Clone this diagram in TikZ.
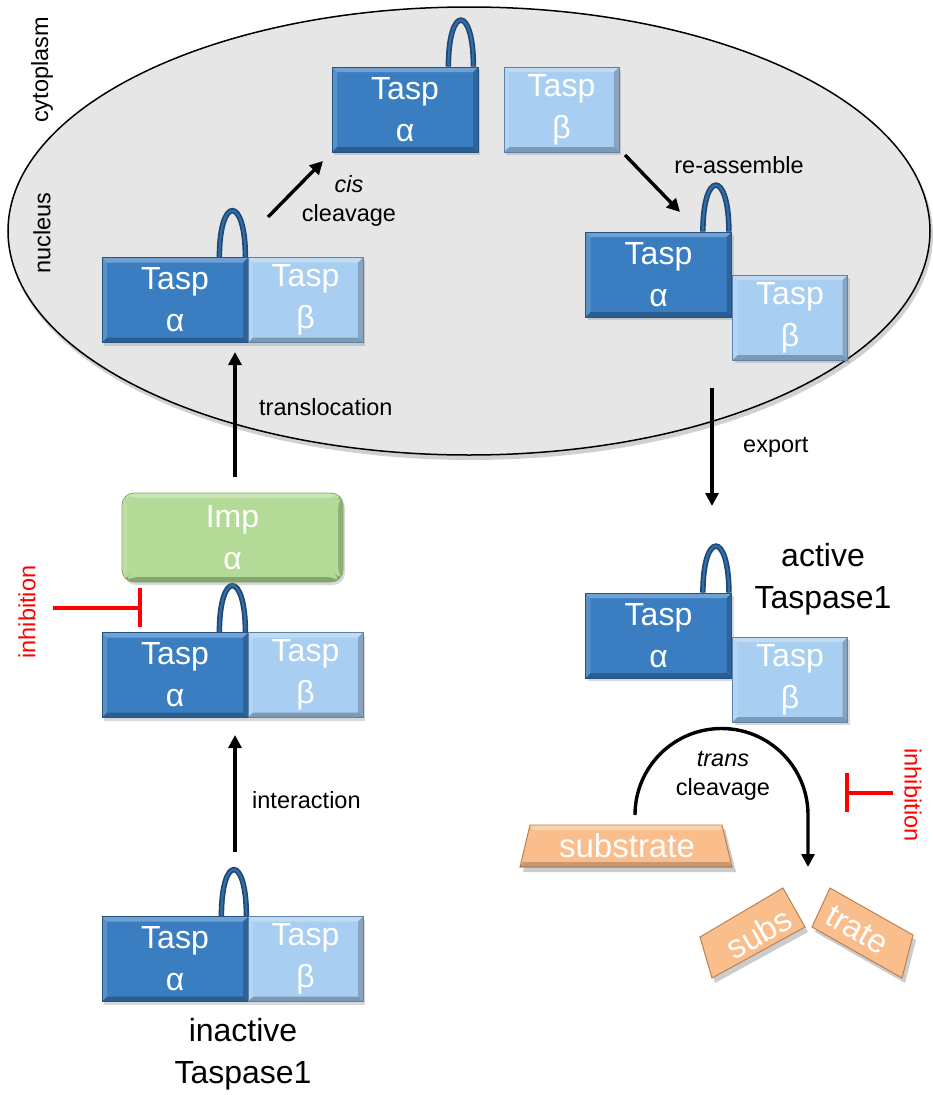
\documentclass[tikz,border=0pt]{standalone}
\usepackage{fontspec}
\setmainfont{Liberation Sans}
\usetikzlibrary{arrows.meta,shadows,calc}
\pgfdeclarelayer{back}
\pgfdeclarelayer{mid}
\pgfsetlayers{back,mid,main}
\definecolor{adark}{RGB}{58,126,193}
\definecolor{aedge}{RGB}{36,84,132}
\definecolor{blight}{RGB}{168,206,241}
\definecolor{bedge}{RGB}{92,130,170}
\definecolor{loopc}{RGB}{30,72,115}
\definecolor{loopm}{RGB}{52,108,165}
\definecolor{impg}{RGB}{179,219,151}
\definecolor{impe}{RGB}{130,170,100}
\definecolor{subc}{RGB}{249,190,140}
\definecolor{sube}{RGB}{185,130,85}
\definecolor{cellg}{RGB}{230,230,230}
\definecolor{inhred}{RGB}{255,0,0}
\tikzset{
 bevel/.style={path picture={
   \fill[white,opacity=0.28] (path picture bounding box.north west) -- (path picture bounding box.north east) -- ([shift={(-5pt,-5pt)}]path picture bounding box.north east) -- ([shift={(5pt,-5pt)}]path picture bounding box.north west) -- cycle;
   \fill[white,opacity=0.15] (path picture bounding box.north west) -- ([shift={(5pt,-5pt)}]path picture bounding box.north west) -- ([shift={(5pt,5pt)}]path picture bounding box.south west) -- (path picture bounding box.south west) -- cycle;
   \fill[black,opacity=0.25] (path picture bounding box.south west) -- ([shift={(5pt,5pt)}]path picture bounding box.south west) -- ([shift={(-5pt,5pt)}]path picture bounding box.south east) -- (path picture bounding box.south east) -- cycle;
   \fill[black,opacity=0.2] (path picture bounding box.north east) -- (path picture bounding box.south east) -- ([shift={(-5pt,5pt)}]path picture bounding box.south east) -- ([shift={(-5pt,-5pt)}]path picture bounding box.north east) -- cycle;
 }},
 taspbox/.style={bevel, minimum height=85pt, inner sep=0pt, text=white, align=center,
   font=\fontsize{32}{42}\selectfont, line width=0.8pt,
   drop shadow={opacity=0.3,shadow xshift=2pt,shadow yshift=-3pt}},
 alphabox/.style={taspbox, fill=adark, draw=aedge, minimum width=146pt},
 betabox/.style={taspbox, fill=blight, draw=bedge, minimum width=115pt},
 impbox/.style={taspbox, rounded corners=12pt, fill=impg, draw=impe, minimum width=221pt, minimum height=89pt},
 loopouter/.style={draw=loopc, line width=5.5pt},
 loopinner/.style={draw=loopm, line width=2.2pt},
 lab/.style={font=\fontsize{23.5}{29}\selectfont, text=black, inner sep=0pt, align=center},
 biglab/.style={font=\fontsize{32}{42}\selectfont, text=black, inner sep=0pt, align=center},
 inhlab/.style={font=\fontsize{23.5}{28}\selectfont, text=inhred, inner sep=0pt},
 arr/.style={line width=3.4pt, -{Triangle[length=13pt,width=13pt]}},
 inh/.style={draw=inhred, line width=4pt},
 subtext/.style={font=\fontsize{33}{40}\selectfont, text=white, inner sep=0pt},
}
\newcommand{\tasploop}[3]{%
  \draw[loopouter] ([xshift=#2]#1.north east) .. controls +(0pt,62pt) and +(0pt,62pt) .. ([xshift=#3]#1.north east);
  \draw[loopinner] ([xshift=#2]#1.north east) .. controls +(0pt,62pt) and +(0pt,62pt) .. ([xshift=#3]#1.north east);}
\begin{document}
\begin{tikzpicture}[x=1pt,y=-1pt]
\useasboundingbox (0,0) rectangle (932,1095);
\begin{pgfonlayer}{back}
\fill[white] (0,0) rectangle (932,1095);
\fill[black,opacity=0.18] (471,235) ellipse[x radius=462, y radius=225];
\filldraw[fill=cellg, draw=black, line width=1.5pt] (469,231) ellipse[x radius=461, y radius=224];
\end{pgfonlayer}
\node[lab, rotate=90] (cyto) at (42,70) {cytoplasm};
\node[lab, rotate=90] (nucl) at (42,233) {nucleus};

\node[alphabox] (A1) at (405,109.5) {Tasp\\α};
\node[betabox] (B1) at (561.5,109.5) {Tasp\\β};
\node[alphabox] (A2) at (175,300) {Tasp\\α};
\node[betabox] (B2) at (305.5,300) {Tasp\\β};
\node[alphabox] (A3) at (658.5,274.5) {Tasp\\α};
\node[betabox] (B3) at (790,317.5) {Tasp\\β};
\node[impbox] (imp) at (232.5,537.5) {Imp\\α};
\node[alphabox] (A4) at (175,675) {Tasp\\α};
\node[betabox] (B4) at (305.5,675) {Tasp\\β};
\node[alphabox] (A5) at (175,959) {Tasp\\α};
\node[betabox] (B5) at (305.5,959) {Tasp\\β};
\node[alphabox] (A6) at (658.5,635.5) {Tasp\\α};
\node[betabox] (B6) at (790,679.5) {Tasp\\β};

\begin{pgfonlayer}{mid}
\tasploop{A1}{-30pt}{-5pt}
\tasploop{A2}{-29pt}{-3pt}
\tasploop{A3}{-29pt}{-3pt}
\tasploop{A4}{-29pt}{-3pt}
\tasploop{A5}{-27pt}{-2pt}
\tasploop{A6}{-29pt}{-3pt}
\end{pgfonlayer}

% arrows
\coordinate (c1s) at (268,217); \coordinate (c1e) at (323,161);
\coordinate (r1s) at (625,155); \coordinate (r1e) at (680,212);
\coordinate (ts) at (235,477);  \coordinate (te) at (235,352);
\coordinate (es) at (712,388);  \coordinate (ee) at (712,506);
\coordinate (is) at (235,852);  \coordinate (ie) at (235,735);
\draw[arr] (c1s) -- (c1e);
\draw[arr] (r1s) -- (r1e);
\draw[arr] (ts) -- (te);
\draw[arr] (es) -- (ee);
\draw[arr] (is) -- (ie);

\node[lab] (cis) at (349,201) {\textit{cis}\\cleavage};
\node[lab] (reas) at (739,165) {re-assemble};
\node[lab, anchor=west] (transl) at (259,407) {translocation};
\node[lab, anchor=west] (export) at (743,447) {export};
\node[lab, anchor=west] (interact) at (252,800) {interaction};
\node[biglab] (act) at (823,579) {active\\Taspase1};
\node[biglab] (inact) at (243,1054) {inactive\\Taspase1};

% inhibition left
\coordinate (ih1s) at (53,608); \coordinate (ih1e) at (140,608);
\draw[inh] (ih1s) -- (ih1e);
\draw[inh] ([yshift=20pt]ih1e) -- ([yshift=-19pt]ih1e);
\node[inhlab, rotate=90] (inh1) at (27,612) {inhibition};
% inhibition right
\coordinate (ih2s) at (893,793); \coordinate (ih2e) at (847,793);
\draw[inh] (ih2s) -- (ih2e);
\draw[inh] ([yshift=20pt]ih2e) -- ([yshift=-19pt]ih2e);
\node[inhlab, rotate=-90] (inh2) at (913,795) {inhibition};

% substrate
\fill[black,opacity=0.2] (533,829) -- (725,829) -- (736,872) -- (523,872) -- cycle;
\filldraw[fill=subc, draw=sube, line width=1pt] (530,825) -- (722,825) -- (732,867) -- (520,867) -- cycle;
\fill[white,opacity=0.3] (530,825) -- (722,825) -- (720,830) -- (533,830) -- cycle;
\fill[black,opacity=0.2] (520,867) -- (732,867) -- (729,862) -- (523,862) -- cycle;
\node[subtext] (subst) at (627,846) {substrate};

% trans cleavage arc
\coordinate (as) at (635,815); \coordinate (ae) at (808,867);
\draw[arr] (as) arc[start angle=180, end angle=360, radius=86.5] -- (ae);
\node[lab] (trans) at (723,776) {\textit{trans}\\cleavage};

% broken pieces
\fill[black,opacity=0.2] (703,942) -- (786,893) -- (808,932) -- (715,983) -- cycle;
\filldraw[fill=subc, draw=sube, line width=1pt] (700,937) -- (783,888) -- (805,927) -- (712,978) -- cycle;
\begin{scope}
\clip (700,937) -- (783,888) -- (805,927) -- (712,978) -- cycle;
\node[subtext, rotate=30] (subs) at (759,933) {subs};
\end{scope}
\fill[black,opacity=0.2] (833,893) -- (916,940) -- (905,983) -- (815,932) -- cycle;
\filldraw[fill=subc, draw=sube, line width=1pt] (830,888) -- (913,935) -- (902,978) -- (812,927) -- cycle;
\begin{scope}
\clip (830,888) -- (913,935) -- (902,978) -- (812,927) -- cycle;
\node[subtext, rotate=-30] (trate) at (857,930) {trate};
\end{scope}
\end{tikzpicture}
\end{document}
